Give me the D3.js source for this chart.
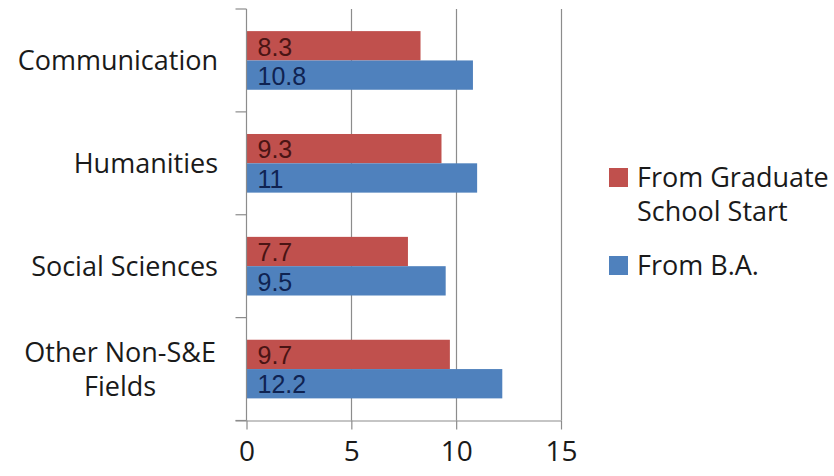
<!DOCTYPE html>
<html>
<head>
<meta charset="utf-8">
<script src="https://cdn.jsdelivr.net/npm/d3@7"></script>
<style>
	body { margin: 0; background: #fff; }
	text { font-family: 'Open Sans', sans-serif; fill: #1a1a1a; }
</style>
</head>
<body>
<script>
var categories = ['Communication', 'Humanities', 'Social Sciences', 'Other Non-S&E Fields'];
var gradStart = [8.3, 9.3, 7.7, 9.7];
var fromBA = [10.8, 11, 9.5, 12.2];
var seriesNames = ['From Graduate School Start', 'From B.A.'];
var xTicks = [0, 5, 10, 15];

// category labels that wrap onto two lines
var labelLines = {
	'Other Non-S&E Fields': ['Other Non-S&E', 'Fields'],
	'From Graduate School Start': ['From Graduate', 'School Start'],
};

var width = 834,
	height = 476;

var plot = {
	left: 246.5,
	right: 561,
	top: 9,
	bottom: 420.5,
};

var colors = ['#C0504D', '#4F81BD'],
	labelColors = ['#4a1414', '#0f2352'];

var rows = categories.map(function(c, i) {
	return { name: c, values: [gradStart[i], fromBA[i]] };
});

var svg = d3.select('body')
	.append('svg')
	.attr('width', width)
	.attr('height', height);

var x = d3.scaleLinear()
	.domain([0, 15])
	.range([plot.left, plot.right]);

var y = d3.scaleBand()
	.domain(categories)
	.range([plot.top, plot.bottom])
	.paddingInner(0.43)
	.paddingOuter(0.215);

var ySeries = d3.scaleBand()
	.domain([0, 1])
	.range([0, y.bandwidth()]);

var step = y.step();

// gridlines
svg.selectAll('line.grid')
	.data(xTicks.slice(1))
	.enter()
	.append('line')
	.attr('x1', function(d) { return Math.round(x(d)) + 0.5; })
	.attr('x2', function(d) { return Math.round(x(d)) + 0.5; })
	.attr('y1', plot.top)
	.attr('y2', plot.bottom)
	.attr('stroke', '#8c8c8c')
	.attr('stroke-width', 1.2);

// bars
var groups = svg.selectAll('g.row')
	.data(rows)
	.enter()
	.append('g')
	.attr('transform', function(d) { return 'translate(0,' + y(d.name) + ')'; });

groups.selectAll('rect')
	.data(function(d) { return d.values; })
	.enter()
	.append('rect')
	.attr('x', x(0))
	.attr('y', function(d, i) { return ySeries(i); })
	.attr('width', function(d) { return x(d) - x(0); })
	.attr('height', ySeries.bandwidth())
	.attr('fill', function(d, i) { return colors[i]; });

// value labels: Liberation Sans keeps the line box inside the bar
groups.selectAll('text.val')
	.data(function(d) { return d.values; })
	.enter()
	.append('text')
	.attr('x', x(0) + 11)
	.attr('y', function(d, i) { return ySeries(i) + ySeries.bandwidth() / 2 + 1; })
	.attr('dy', '0.35em')
	.style('font-family', "'Liberation Sans', sans-serif")
	.style('font-size', '25px')
	.style('fill', function(d, i) { return labelColors[i]; })
	.text(function(d) { return d; });

// left axis with ticks between categories
var yAxis = svg.append('g');
yAxis.append('line')
	.attr('x1', x(0))
	.attr('x2', x(0))
	.attr('y1', plot.top)
	.attr('y2', plot.bottom)
	.attr('stroke', '#8c8c8c')
	.attr('stroke-width', 1.2);
yAxis.selectAll('line.tick')
	.data(d3.range(categories.length + 1))
	.enter()
	.append('line')
	.attr('x1', x(0) - 11)
	.attr('x2', x(0))
	.attr('y1', function(i) { return plot.top + i * step; })
	.attr('y2', function(i) { return plot.top + i * step; })
	.attr('stroke', '#8c8c8c')
	.attr('stroke-width', 1.2);

var catLabels = yAxis.selectAll('text.cat')
	.data(categories)
	.enter()
	.append('text')
	.style('font-size', '27px');

catLabels.each(function(d) {
	var t = d3.select(this),
		lines = labelLines[d] || [d],
		cy = y(d) + y.bandwidth() / 2,
		lh = 34;
	lines.forEach(function(l, k) {
		t.append('tspan')
			.attr('y', cy + (k - (lines.length - 1) / 2) * lh)
			.attr('dy', '0.35em')
			.text(l);
	});
	if (lines.length == 1) {
		t.attr('text-anchor', 'end');
		t.selectAll('tspan').attr('x', 218);
	} else {
		var w = 0;
		t.selectAll('tspan').each(function() {
			w = Math.max(w, this.getComputedTextLength());
		});
		t.attr('text-anchor', 'middle');
		t.selectAll('tspan').attr('x', 216 - w / 2);
	}
});

// bottom axis
var xAxis = svg.append('g')
	.attr('transform', 'translate(0,' + plot.bottom + ')')
	.call(d3.axisBottom(x).tickValues(xTicks).tickSize(9).tickPadding(12));
xAxis.select('.domain')
	.attr('stroke', '#8c8c8c')
	.attr('stroke-width', 1.2)
	.attr('d', 'M' + (x(0) - 11) + ',0.5H' + x(15));
xAxis.selectAll('.tick line')
	.attr('stroke', '#8c8c8c')
	.attr('stroke-width', 1.2);
xAxis.selectAll('.tick text')
	.attr('fill', '#1a1a1a')
	.style('font-size', '28px')
	.style('font-family', "'Open Sans', sans-serif");

// legend
var legendItems = [
	{ name: seriesNames[0], color: colors[0], y: 168 },
	{ name: seriesNames[1], color: colors[1], y: 256 },
];

var legend = svg.selectAll('g.legend')
	.data(legendItems)
	.enter()
	.append('g')
	.attr('transform', function(d) { return 'translate(609,' + d.y + ')'; });

legend.append('rect')
	.attr('width', 19)
	.attr('height', 19)
	.attr('fill', function(d) { return d.color; });

legend.append('text')
	.style('font-size', '27px')
	.each(function(d) {
		var t = d3.select(this),
			lines = labelLines[d.name] || [d.name];
		lines.forEach(function(l, k) {
			t.append('tspan')
				.attr('x', 28)
				.attr('y', 10 + k * 34)
				.attr('dy', '0.35em')
				.text(l);
		});
	});
</script>
</body>
</html>
